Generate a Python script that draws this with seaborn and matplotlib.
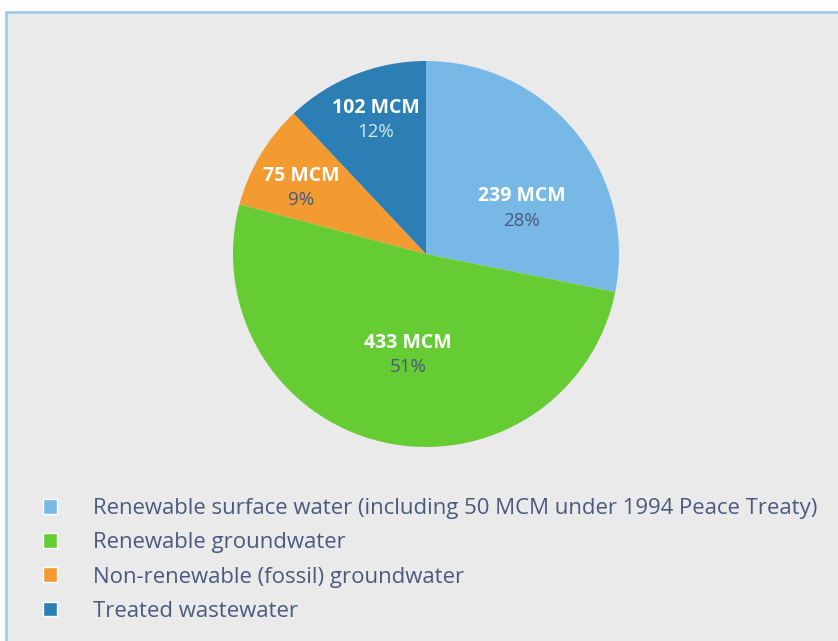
import numpy as np
import matplotlib
matplotlib.use("Agg")
import matplotlib.pyplot as plt
import seaborn as sns
from matplotlib.patches import Rectangle

sources = [
    "Renewable surface water (including 50 MCM under 1994 Peace Treaty)",
    "Renewable groundwater",
    "Non-renewable (fossil) groundwater",
    "Treated wastewater",
]
volumes_mcm = [239, 433, 75, 102]
percent_labels = ["28%", "51%", "9%", "12%"]

colors = ["#77B8E7", "#66CC33", "#F39A30", "#2B7FB4"]
pct_colors = ["#4A5A7C", "#4A5A7C", "#4A5A7C", "#D5E6F4"]
label_radius = [0.55, 0.53, 0.73, 0.74]
label_shift_deg = [-14, 3, 3, -1]

sns.set_theme(style="white")
plt.rcParams["font.family"] = ["Open Sans", "DejaVu Sans"]

W, H = 838, 641
fig = plt.figure(figsize=(W / 100, H / 100), dpi=100)
fig.patch.set_facecolor("white")

# panel background with light blue border
fig.patches.append(Rectangle((6 / W, -0.05), 1.0, (H - 12) / H + 0.05,
                             transform=fig.transFigure, facecolor="#EAEAEA",
                             edgecolor="#9ECDEC", linewidth=2, zorder=-5))

cx, cy, r = 426, 254, 193
ax = fig.add_axes([(cx - r) / W, (H - cy - r) / H, 2 * r / W, 2 * r / H])
ax.patch.set_alpha(0)
wedges, _ = ax.pie(volumes_mcm, colors=colors, startangle=90, counterclock=False,
                   wedgeprops=dict(linewidth=0))
ax.set_xlim(-1, 1)
ax.set_ylim(-1, 1)
ax.set_aspect("equal")
ax.axis("off")

for w, v, p, pc, lr, sh in zip(wedges, volumes_mcm, percent_labels, pct_colors,
                               label_radius, label_shift_deg):
    ang = np.deg2rad((w.theta1 + w.theta2) / 2 + sh)
    x, y = lr * np.cos(ang), lr * np.sin(ang)
    ax.text(x, y + 0.063, f"{v} MCM", ha="center", va="center", color="white",
            fontsize=14, fontweight="bold")
    ax.text(x, y - 0.063, p, ha="center", va="center", color=pc, fontsize=13.5)

handles = [Rectangle((0, 0), 1, 1, facecolor=c) for c in colors]
leg = fig.legend(handles, sources, loc="upper left",
                 bbox_to_anchor=(43 / W, (H - 498) / H), frameon=False,
                 fontsize=15.9, labelspacing=0.6, handlelength=0.65,
                 handleheight=0.65, handletextpad=1.6,
                 borderpad=0, borderaxespad=0)
for t in leg.get_texts():
    t.set_color("#4A5A7E")

fig.savefig("out.png", dpi=100)
